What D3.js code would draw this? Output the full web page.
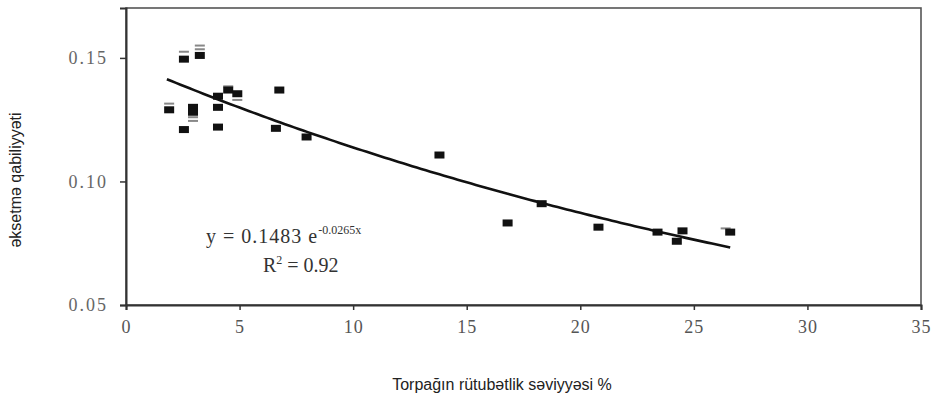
<!DOCTYPE html>
<html>
<head>
<meta charset="utf-8">
<script src="https://cdn.jsdelivr.net/npm/d3@7"></script>
<style>
  body { margin: 0; background: #fff; }
  svg { display: block; }
</style>
</head>
<body>
<div id="chart"></div>
<script>
// measured points (soil moisture %, reflectance)
var moisture = [1.9, 2.55, 2.55, 2.95, 2.95, 3.25, 4.05, 4.05, 4.05, 4.5, 4.9, 6.6, 6.75, 7.95, 13.8, 16.8, 18.3, 20.8, 23.4, 24.25, 24.5, 26.6];
var reflect  = [0.129, 0.1495, 0.121, 0.130, 0.128, 0.151, 0.1345, 0.130, 0.122, 0.137, 0.1355, 0.1215, 0.137, 0.118, 0.1107, 0.0832, 0.091, 0.0815, 0.0795, 0.0758, 0.0800, 0.0795];

// faint overprinted marks in the scan
var faintX = [1.9, 2.55, 2.95, 2.95, 3.25, 3.25, 4.5, 4.9, 26.4];
var faintY = [0.1315, 0.1525, 0.126, 0.1245, 0.155, 0.1535, 0.1385, 0.133, 0.081];

var xTicks = [0, 5, 10, 15, 20, 25, 30, 35];
var yTicks = [0.05, 0.10, 0.15];
var fitA = 0.1483, fitB = -0.0265;
var fitFrom = 1.8, fitTo = 26.6;

var svgWidth = 935, svgHeight = 403;
var margin = {top: 8, right: 14, bottom: 98, left: 126};
var width = svgWidth - margin.left - margin.right,
    height = svgHeight - margin.top - margin.bottom;

var svg = d3.select("#chart").append("svg")
  .attr("width", svgWidth)
  .attr("height", svgHeight);

var g = svg.append("g").attr("transform", "translate(" + margin.left + "," + margin.top + ")");

var xScale = d3.scaleLinear().domain([0, 35]).range([0, width]);
var yScale = d3.scaleLinear().domain([0.05, 0.1702]).range([height, 0]);

var serif = "'Liberation Serif', 'DejaVu Serif', serif";

// frame
g.append("rect")
  .attr("x", 0).attr("y", 0)
  .attr("width", width).attr("height", height)
  .attr("fill", "none")
  .attr("stroke", "#555")
  .attr("stroke-width", 1.6);

// x axis
var xAxis = g.append("g")
  .attr("transform", "translate(0," + height + ")")
  .call(d3.axisBottom(xScale).tickValues(xTicks).tickFormat(d3.format("d")).tickSize(5).tickPadding(10));
xAxis.select(".domain").attr("stroke", "#333").attr("stroke-width", 2);
xAxis.selectAll(".tick line").attr("stroke", "#333").attr("stroke-width", 1.5);
xAxis.selectAll("text").attr("font-family", serif).attr("font-size", 18).attr("fill", "#555")
  .attr("letter-spacing", 1);

// y axis
var yAxis = g.append("g")
  .call(d3.axisLeft(yScale).tickValues(yTicks).tickFormat(d3.format(".2f")).tickSize(6).tickPadding(12));
yAxis.select(".domain").attr("stroke", "#333").attr("stroke-width", 2);
yAxis.selectAll(".tick line").attr("stroke", "#333").attr("stroke-width", 1.5);
yAxis.selectAll("text").attr("font-family", serif).attr("font-size", 18).attr("fill", "#666")
  .attr("letter-spacing", 2);

// faint marks
g.selectAll("rect.faint")
  .data(faintX)
  .enter()
  .append("rect")
  .attr("class", "faint")
  .attr("x", function(d) { return xScale(d) - 5; })
  .attr("y", function(d, i) { return yScale(faintY[i]) - 1; })
  .attr("width", 10)
  .attr("height", 2)
  .attr("fill", "#888");

// data points
g.selectAll("rect.pt")
  .data(moisture)
  .enter()
  .append("rect")
  .attr("class", "pt")
  .attr("x", function(d) { return xScale(d) - 5; })
  .attr("y", function(d, i) { return yScale(reflect[i]) - 3.5; })
  .attr("width", 10)
  .attr("height", 7)
  .attr("fill", "#111");

// exponential trend
var fitX = d3.range(fitFrom, fitTo + 0.001, 0.2);
var line = d3.line()
  .x(function(d) { return xScale(d); })
  .y(function(d) { return yScale(fitA * Math.exp(fitB * d)); });
g.append("path")
  .datum(fitX)
  .attr("d", line)
  .attr("fill", "none")
  .attr("stroke", "#111")
  .attr("stroke-width", 2.6);

// equation
var eq = svg.append("text")
  .attr("x", 206).attr("y", 243)
  .attr("font-family", serif).attr("font-size", 20).attr("fill", "#333")
  .attr("letter-spacing", 1);
eq.append("tspan").text("y = 0.1483 e");
eq.append("tspan").attr("dy", -9).attr("font-size", 12).attr("letter-spacing", 0).text("-0.0265x");

var r2 = svg.append("text")
  .attr("x", 263).attr("y", 272)
  .attr("font-family", serif).attr("font-size", 20).attr("fill", "#333");
r2.append("tspan").text("R");
r2.append("tspan").attr("dy", -8).attr("font-size", 12).text("2");
r2.append("tspan").attr("dy", 8).text(" = 0.92");

// axis titles
svg.append("text")
  .attr("x", 502).attr("y", 390)
  .attr("text-anchor", "middle")
  .attr("font-family", "'Liberation Sans', Arial, sans-serif")
  .attr("font-size", 16).attr("fill", "#222")
  .text("Torpağın rütubətlik səviyyəsi %");

svg.append("text")
  .attr("transform", "translate(21,180) rotate(-90)")
  .attr("text-anchor", "middle")
  .attr("font-family", "'Liberation Sans', Arial, sans-serif")
  .attr("font-size", 16).attr("fill", "#222")
  .text("əksetmə qabiliyyəti");
</script>
</body>
</html>
